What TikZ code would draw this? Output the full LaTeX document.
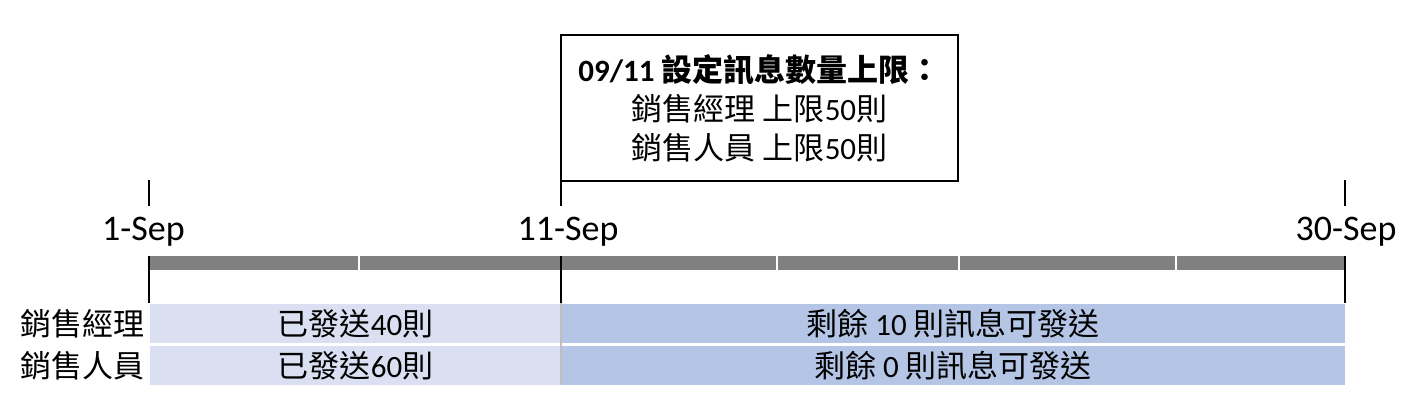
\documentclass[tikz,border=0pt]{standalone}
\usepackage{fontspec}
\setmainfont{Carlito}
\newfontfamily\cjk{Noto Sans CJK TC}
\newcommand\zh[1]{{\cjk #1}}
\definecolor{barGray}{HTML}{808080}
\definecolor{rowLight}{HTML}{DAE0F1}
\definecolor{rowDark}{HTML}{B4C5E5}
\definecolor{sepGray}{HTML}{BFBFBF}
\tikzset{
  tickline/.style={line width=1pt, black},
  datelbl/.style={font=\fontsize{18}{21}\selectfont, inner sep=0pt},
  rowlbl/.style={font=\fontsize{15.5}{19}\selectfont, inner sep=0pt},
  celltxt/.style={font=\fontsize{15.5}{19}\selectfont, inner sep=0pt},
  gapline/.style={white, line width=1pt},
}
\begin{document}
\begin{tikzpicture}[x=0.5pt,y=-0.5pt]
\useasboundingbox (0,0) rectangle (1416,412);
% info box
\node[draw, line width=1pt, minimum width=198.5pt, minimum height=73pt, inner sep=0pt,
      outer sep=0pt, align=center, font=\fontsize{15.5}{19.5}\selectfont] (box) at (759.5,108)
  {\textbf{09/11 \zh{設定訊息數量上限：}}\\
   \zh{銷售經理 上限}50\zh{則}\\
   \zh{銷售人員 上限}50\zh{則}};
% tick coordinates
\coordinate (t1a) at (149,180);  \coordinate (t1b) at (149,206);
\coordinate (t2b) at (561,206);
\coordinate (t3a) at (1345,180); \coordinate (t3b) at (1345,206);
\coordinate (b1a) at (149,256);  \coordinate (b1b) at (149,303);
\coordinate (b2a) at (561,256);  \coordinate (b2b) at (561,303);
\coordinate (b3a) at (1345,256); \coordinate (b3b) at (1345,303);
% rows
\fill[rowLight] (150,304) rectangle (561,343);
\fill[rowLight] (150,346) rectangle (561,385);
\fill[rowDark] (561,304) rectangle (1345,343);
\fill[rowDark] (561,346) rectangle (1345,385);
\draw[sepGray, line width=1pt] (b2b) -- (561,385);
% bar
\fill[barGray] (149,256) rectangle (1345,270);
\foreach \gx in {358.5,776.5,958.5,1175.5} \draw[gapline] (\gx,256) -- (\gx,270);
% ticks
\draw[tickline] (t1a) -- (t1b);
\draw[tickline] (box.south west) -- (t2b);
\draw[tickline] (t3a) -- (t3b);
\draw[tickline] (b1a) -- (b1b);
\draw[tickline] (b2a) -- (b2b);
\draw[tickline] (b3a) -- (b3b);
% date labels
\node[datelbl] (d1) at (143.5,232) {1-Sep};
\node[datelbl] (d11) at (568,232) {11-Sep};
\node[datelbl] (d30) at (1346,232) {30-Sep};
% row labels
\node[rowlbl, anchor=east] (r1) at (145,324) {\zh{銷售經理}};
\node[rowlbl, anchor=east] (r2) at (145,366) {\zh{銷售人員}};
% cell texts
\node[celltxt] (c11) at (355.5,324) {\zh{已發送}40\zh{則}};
\node[celltxt] (c21) at (355.5,366) {\zh{已發送}60\zh{則}};
\node[celltxt] (c12) at (953,324) {\zh{剩餘} 10 \zh{則訊息可發送}};
\node[celltxt] (c22) at (953,366) {\zh{剩餘} 0 \zh{則訊息可發送}};
\end{tikzpicture}
\end{document}
